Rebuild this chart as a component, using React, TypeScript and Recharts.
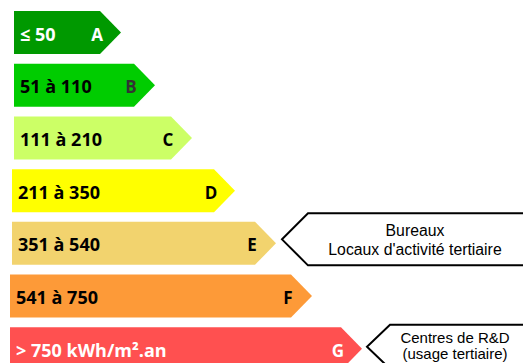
import React from 'react';
import { BarChart, Bar, XAxis, YAxis, Cell } from 'recharts';

// ---- data ----
const categories = ['A', 'B', 'C', 'D', 'E', 'F', 'G'];
const rangeLabels = ['≤ 50', '51 à 110', '111 à 210', '211 à 350', '351 à 540', '541 à 750', '> 750 kWh/m².an'];
const barStart = [14, 14, 14, 12, 12, 10, 10];
const barEnd = [121, 155, 192, 235, 276, 312, 362];
const calloutLines: string[][] = [[], [], [], [], ['Bureaux', "Locaux d'activité tertiaire"], [], ['Centres de R&D', '(usage tertiaire)']];

// ---- styles ----
const barColors = ['#009900', '#00CC00', '#CCFF66', '#FFFF00', '#F2D36E', '#FD9A38', '#FF5050'];
const rangeTextColors = ['#FFFFFF', '#000000', '#000000', '#000000', '#000000', '#000000', '#FFFFFF'];
const letterColors = ['#FFFFFF', '#333333', '#000000', '#000000', '#000000', '#000000', '#FFFFFF'];
const calloutStyle: Record<number, { gap: number; half: number; slant: number; dy: number; textDx: number; lineY: number[]; size: number }> = {
  4: { gap: 6, half: 26, slant: 26, dy: -4, textDx: 133, lineY: [-3, 16], size: 15.8 },
  6: { gap: 5, half: 22, slant: 23, dy: -2, textDx: 88, lineY: [-4, 12], size: 15 },
};

const data = categories.map((c, i) => ({
  cat: c,
  range: [barStart[i], barEnd[i]],
  label: rangeLabels[i],
  callout: calloutLines[i],
}));

const TIP = 21;

const ArrowShape = (props: any) => {
  const { x, y, width, height, index, payload } = props;
  const x2 = x + width;
  const cy = y + height / 2;
  const pts = `${x},${y} ${x2 - TIP},${y} ${x2},${cy} ${x2 - TIP},${y + height} ${x},${y + height}`;
  const cs = calloutStyle[index];
  let callout = null;
  if (cs && payload.callout.length) {
    const tx = x2 + cs.gap;
    const ty = cy + cs.dy;
    const right = 540;
    const cpts = `${right},${ty - cs.half} ${tx + cs.slant},${ty - cs.half} ${tx},${ty} ${tx + cs.slant},${ty + cs.half} ${right},${ty + cs.half}`;
    callout = (
      <g>
        <polyline points={cpts} fill="#FFFFFF" stroke="#000000" strokeWidth={2} />
        {payload.callout.map((line: string, k: number) => (
          <text
            key={k}
            x={tx + cs.textDx}
            y={ty + cs.lineY[k]}
            textAnchor="middle"
            fontFamily="'Liberation Sans', Arial, sans-serif"
            fontSize={cs.size}
            fill="#000000"
          >
            {line}
          </text>
        ))}
      </g>
    );
  }
  return (
    <g>
      <polygon points={pts} fill={barColors[index]} />
      <text
        x={x + 6}
        y={cy + 8}
        fontFamily="'Open Sans', sans-serif"
        fontWeight={700}
        fontSize={18}
        fill={rangeTextColors[index]}
      >
        {payload.label}
      </text>
      <text
        x={x2 - 24}
        y={cy + 8}
        textAnchor="middle"
        fontFamily="'Open Sans', sans-serif"
        fontWeight={700}
        fontSize={17}
        fill={letterColors[index]}
      >
        {payload.cat}
      </text>
      {callout}
    </g>
  );
};

export default function App() {
  return (
    <div style={{ position: 'fixed', left: 0, top: 0, width: 523, height: 363, overflow: 'hidden', background: '#FFFFFF' }}>
      <BarChart
        width={523}
        height={380}
        data={data}
        layout="vertical"
        margin={{ top: 6, right: 0, bottom: 5, left: 0 }}
      >
        <XAxis type="number" domain={[0, 523]} hide />
        <YAxis type="category" dataKey="cat" hide />
        <Bar dataKey="range" barSize={43} isAnimationActive={false} shape={(p: any) => <ArrowShape {...p} />}>
          {data.map((d, i) => (
            <Cell key={d.cat} fill={barColors[i]} />
          ))}
        </Bar>
      </BarChart>
    </div>
  );
}
